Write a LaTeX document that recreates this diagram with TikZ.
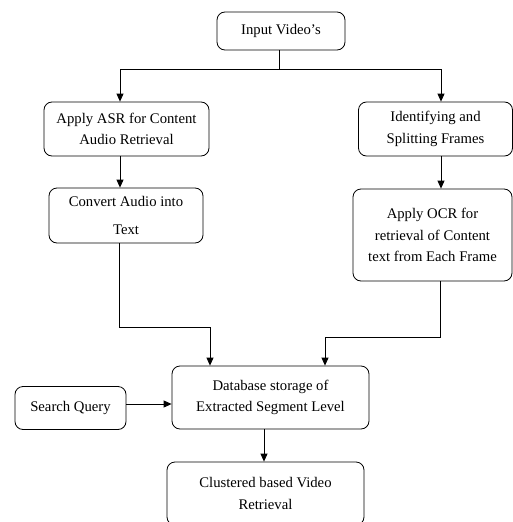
\documentclass[tikz,border=0pt]{standalone}
\usepackage{fontspec}
\setmainfont{Liberation Serif}
\usetikzlibrary{arrows.meta}
\begin{document}
\begin{tikzpicture}[x=1pt, y=-1pt,
		box/.style={draw, rounded corners=8pt, line width=0.8pt, align=center, inner sep=0pt,
			font=\fontsize{14.7}{21.3}\selectfont},
		arr/.style={line width=0.8pt, -{Triangle[length=8pt,width=7pt]}}]
		\useasboundingbox (0,0) rectangle (513,522);
		% boxes
		\node[box, minimum width=128pt, minimum height=38pt] (input) at (281,31) {Input Video's};
		\node[box, minimum width=165pt, minimum height=54pt] (asr) at (126.5,129) {Apply ASR for Content\\Audio Retrieval};
		\node[box, minimum width=154pt, minimum height=54pt] (ident) at (435.5,129) {Identifying and\\Splitting Frames};
		\node[box, minimum width=154pt, minimum height=55pt] (convert) at (126,215.5) {Convert Audio into\\[7pt]Text};
		\node[box, minimum width=159pt, minimum height=92pt] (ocr) at (432.5,235) {Apply OCR for\\retrieval of Content\\text from Each Frame};
		\node[box, minimum width=197pt, minimum height=63pt] (db) at (270.5,397.5) {Database storage of\\Extracted Segment Level};
		\node[box, minimum width=111pt, minimum height=43pt] (search) at (70.5,408) {Search Query};
		\node[box, minimum width=197pt, minimum height=63pt] (clust) at (265.5,493.5) {Clustered based Video\\Retrieval};
		% connectors
		\coordinate (split) at (279,69);
		\draw[line width=0.8pt] ([xshift=-2pt]input.south) -- (split);
		\draw[arr] (split) -| ([xshift=-6.5pt]asr.north);
		\draw[arr] (split) -| ([xshift=5.5pt]ident.north);
		\draw[arr] ([xshift=-6.5pt]asr.south) -- ([xshift=-6.5pt]asr.south |- convert.north);
		\draw[arr] ([xshift=5.5pt]ident.south) -- ([xshift=5.5pt]ident.south |- ocr.north);
		\coordinate (leftin) at ([xshift=-60.5pt]db.north);
		\coordinate (rightin) at ([xshift=54.5pt]db.north);
		\draw[arr] ([xshift=-7pt]convert.south) -- ++(0,84) -| (leftin);
		\draw[arr] ([xshift=7.5pt]ocr.south) -- ++(0,56) -| (rightin);
		\draw[arr] ([yshift=4pt]search.east) -- ([yshift=4pt]search.east -| db.west);
		\draw[arr] ([xshift=-6.5pt]db.south) -- ([xshift=-6.5pt]db.south |- clust.north);
	\end{tikzpicture}
\end{document}
